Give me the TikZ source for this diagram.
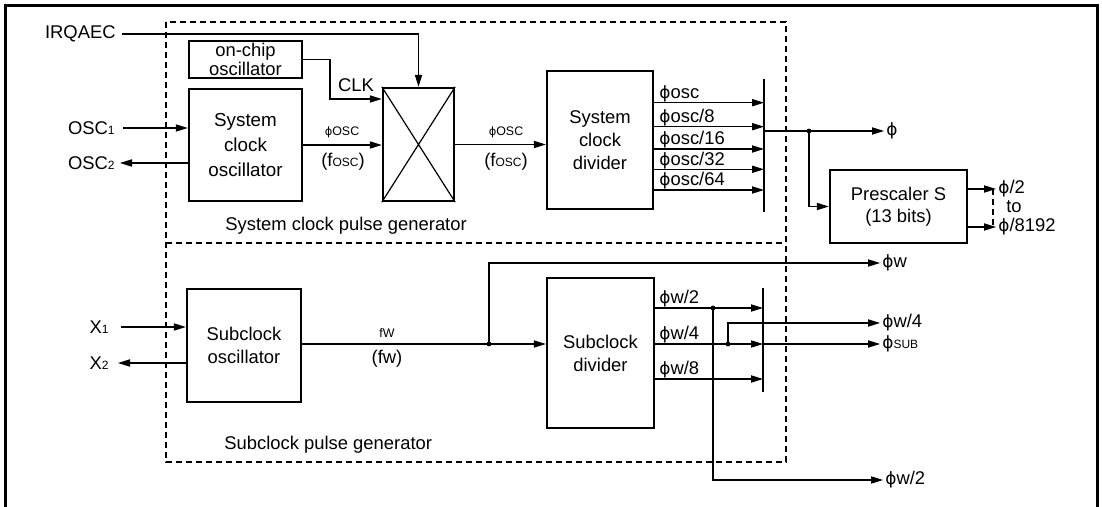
\documentclass[tikz,border=0pt]{standalone}
\usepackage{fontspec}
\setmainfont{Liberation Sans}
\newfontfamily\phifont[Scale=0.92]{DejaVu Sans}
\usetikzlibrary{arrows.meta,positioning}

\newcommand{\smtxt}[1]{{\fontsize{6}{7}\selectfont #1}}
\newcommand{\ph}{{\phifont ϕ}}

\tikzset{
    blk/.style={draw, line width=1.2pt, align=center, inner sep=0pt,
        font=\fontsize{9.2}{11.5}\selectfont},
    sig/.style={line width=0.6pt},
    arr/.style={sig, -{Triangle[length=6pt,width=3.6pt]}},
    jdot/.style={circle, fill, inner sep=0pt, minimum size=2.4pt},
    txt/.style={inner sep=0pt, font=\fontsize{9.2}{11}\selectfont},
    outtxt/.style={txt, inner xsep=1pt, anchor=west},
    tag/.style={inner sep=0pt, font=\fontsize{6.2}{7}\selectfont},
    area/.style={sig, dash pattern=on 3pt off 2pt}
}

\begin{document}
\begin{tikzpicture}[x=0.5pt,y=-0.5pt]
    \useasboundingbox (0,0) rectangle (1102,507);

    % frame (bottom edge runs off the page)
    \draw[line width=1.5pt] (5,515) -- (5,6) -- (1097,6) -- (1097,515);

    % pulse generator areas
    \draw[area] (166,22) rectangle (786,462);
    \draw[area] (166,243) -- (786,243);
    \node[txt, anchor=west] (sysgen) at (225,226) {System clock pulse generator};
    \node[txt, anchor=west] (subgen) at (224,445) {Subclock pulse generator};

    % system clock blocks
    \node[blk, minimum width=56.5pt, minimum height=18.5pt,
        font=\fontsize{9.2}{7.8}\selectfont] (onchip) at (245.5,59.5) {on-chip\\oscillator};
    \node[blk, minimum width=56.5pt, minimum height=56pt,
        font=\fontsize{9.4}{12.5}\selectfont] (sysosc) at (245.5,145) {System\\clock\\oscillator};
    \node[blk, minimum width=35.5pt, minimum height=56.5pt] (mux) at (418.5,144.5) {};
    \draw[sig] (mux.north west) -- (mux.south east) (mux.north east) -- (mux.south west);
    \node[blk, minimum width=53pt, minimum height=69pt] (sysdiv) at (600,140) {System\\clock\\divider};
    \node[blk, minimum width=68.5pt, minimum height=36.5pt,
        font=\fontsize{9.2}{11}\selectfont] (presc) at (898.5,206.5) {Prescaler S\\(13 bits)};

    % subclock blocks
    \node[blk, minimum width=57pt, minimum height=56.5pt] (subosc) at (244,345.5) {Subclock\\oscillator};
    \node[blk, minimum width=53.5pt, minimum height=75pt] (subdiv) at (600.5,353) {Subclock\\divider};

    % selector bars
    \coordinate (bar1t) at (764,79);
    \coordinate (bar1b) at (764,212);
    \coordinate (bar2t) at (763,288);
    \coordinate (bar2b) at (763,392);
    \draw[sig] (bar1t) -- (bar1b);
    \draw[sig] (bar2t) -- (bar2b);

    % inputs
    \node[txt, anchor=east] (irq) at (116,34) {IRQAEC};
    \draw[arr] ([xshift=3pt]irq.east) -| (mux.north);
    \node[txt, anchor=east] (osc1) at (115,128) {OSC\smtxt{1}};
    \node[txt, anchor=east] (osc2) at (115,163) {OSC\smtxt{2}};
    \draw[arr] ([xshift=4pt]osc1.east) -- (sysosc.west |- osc1.east);
    \draw[arr] (sysosc.west |- osc2.east) -- ([xshift=2.5pt]osc2.east);

    \coordinate (clk) at (330,99);
    \draw[arr] (onchip.east) -| (clk) -- (clk -| mux.west);
    \node[txt] (clklbl) at (356,85) {CLK};

    \draw[arr] (sysosc.east) -- (sysosc.east -| mux.west);
    \node[tag] (oscl1) at (342,132) {\ph OSC};
    \node[txt] (oscf1) at (343,162) {(f\smtxt{OSC})};
    \draw[arr] (mux.east) -- (mux.east -| sysdiv.west);
    \node[tag] (oscl2) at (506,132) {\ph OSC};
    \node[txt] (oscf2) at (506,162) {(f\smtxt{OSC})};

    % system clock divider outputs
    \foreach \yy/\dv in {102.7/0,126.7/8,149/16,169.3/32,190/64} {
        \draw[arr] (sysdiv.east |- 0,\yy) -- (bar1t |- 0,\yy);
        \node[txt, anchor=base west] at (659,\yy-4) {\ph osc\ifnum\dv>0 /\dv\fi};
    }

    % phi and prescaler
    \coordinate (phisplit) at (809,131);
    \node[outtxt] (phi) at (884,131) {\ph};
    \draw[arr] (bar1t |- phisplit) -- (phi.west);
    \node[jdot] at (phisplit) {};
    \draw[arr] (phisplit) |- (presc.west);

    \node[outtxt] (p2) at (996,189) {\ph/2};
    \node[txt] (pto) at (1014,207) {to};
    \node[outtxt] (p8192) at (996,227) {\ph/8192};
    \draw[arr] (presc.east |- p2.west) -- (p2.west);
    \draw[arr] (presc.east |- p8192.west) -- (p8192.west);
    \draw[area] ([xshift=-1.5pt]p2.west) -- ([xshift=-1.5pt]p8192.west);

    % subclock inputs
    \node[txt, anchor=east] (x1) at (109,327) {X\smtxt{1}};
    \node[txt, anchor=east] (x2) at (109,363) {X\smtxt{2}};
    \draw[arr] ([xshift=6pt]x1.east) -- (subosc.west |- x1.east);
    \draw[arr] (subosc.west |- x2.east) -- ([xshift=4.5pt]x2.east);

    % subclock signal
    \coordinate (fwsplit) at (489,344);
    \draw[arr] (subosc.east |- fwsplit) -- (subdiv.west |- fwsplit);
    \node[tag] (fwl) at (387,333) {fW};
    \node[txt] (fwf) at (387,359) {(fw)};
    \node[jdot] at (fwsplit) {};
    \node[outtxt] (phiw) at (880,263) {\ph w};
    \draw[arr] (fwsplit) |- (phiw.west);

    % subclock divider outputs
    \foreach \yy/\dv in {308/2,344/4,379/8} {
        \draw[arr] (subdiv.east |- 0,\yy) -- (bar2t |- 0,\yy);
        \node[txt, anchor=base west] at (659,\yy-4) {\ph w/\dv};
    }

    \coordinate (w2tap) at (713,308);
    \coordinate (w4tap) at (728,344);
    \node[outtxt] (phiw2) at (883,480) {\ph w/2};
    \node[outtxt] (phiw4) at (880,323) {\ph w/4};
    \node[outtxt] (phisub) at (880,344) {\ph\smtxt{SUB}};
    \draw[arr] (w2tap) |- (phiw2.west);
    \draw[arr] (w4tap) |- (phiw4.west);
    \draw[arr] (bar2t |- w4tap) -- (phisub.west);
    \node[jdot] at (w2tap) {};
    \node[jdot] at (w4tap) {};
\end{tikzpicture}
\end{document}
